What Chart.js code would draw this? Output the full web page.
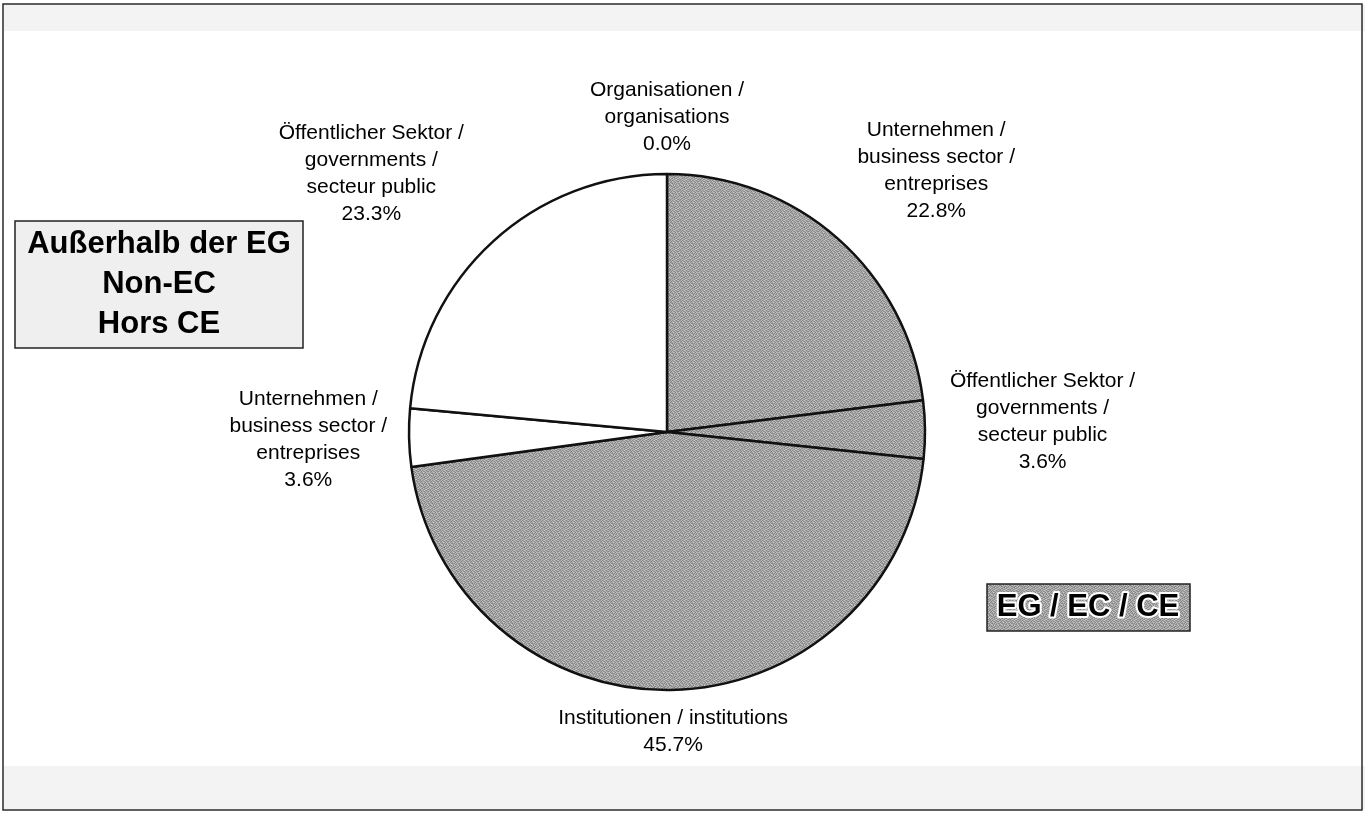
<!DOCTYPE html>
<html>
<head>
<meta charset="utf-8">
<title>EG / Non-EC</title>
<script src="https://cdn.jsdelivr.net/npm/chart.js@4.4.1/dist/chart.umd.min.js"></script>
<style>
  html, body { margin: 0; padding: 0; background: #ffffff; }
  canvas { display: block; }
</style>
</head>
<body>
<canvas id="pieChart" width="1371" height="814"></canvas>
<script>
"use strict";

// slice names, clockwise from the top (one entry per line of the label)
const sliceNames = [
    ["Organisationen /", "organisations"],
    ["Unternehmen /", "business sector /", "entreprises"],
    ["Öffentlicher Sektor /", "governments /", "secteur public"],
    ["Institutionen / institutions"],
    ["Unternehmen /", "business sector /", "entreprises"],
    ["Öffentlicher Sektor /", "governments /", "secteur public"]
];

// shares in percent
const shares = [0.0, 22.8, 3.6, 45.7, 3.6, 23.3];

// true = EG / EC (grey), false = outside the EC (white)
const insideEC = [false, true, true, true, false, false];

// small label corrections (px), the rest comes from the slice angle
const labelNudge = [[0, -2], [37, -17], [11, -7], [0, 1], [-8, 0], [-50, -17]];

const FONT = '"Liberation Sans", Arial, Helvetica, sans-serif';
const LINE_H = 27;
const GAP = 14;

// speckled grey like the printed raster
const greyTile = [
    [150, 188, 140, 172, 205, 158, 136, 180, 196, 150],
    [176, 132, 196, 150, 142, 186, 168, 146, 134, 178],
    [138, 170, 160, 208, 176, 130, 198, 160, 182, 204],
    [196, 152, 134, 168, 140, 190, 150, 178, 146, 140],
    [164, 206, 178, 144, 184, 156, 138, 200, 170, 158],
    [140, 158, 192, 136, 200, 172, 184, 148, 206, 132],
    [182, 136, 150, 186, 154, 134, 162, 192, 138, 176],
    [158, 194, 170, 146, 130, 204, 176, 140, 160, 198],
    [204, 148, 136, 198, 168, 150, 142, 186, 194, 152],
    [134, 176, 188, 158, 144, 196, 208, 154, 136, 168]
];

function makeGreyPattern(ctx) {
    const n = greyTile.length;
    const c = document.createElement("canvas");
    c.width = n;
    c.height = n;
    const g = c.getContext("2d");
    const img = g.createImageData(n, n);
    for (let y = 0; y < n; y++) {
        for (let x = 0; x < n; x++) {
            const v = greyTile[y][x] - 4;
            const k = (y * n + x) * 4;
            img.data[k] = v;
            img.data[k + 1] = v;
            img.data[k + 2] = v;
            img.data[k + 3] = 255;
        }
    }
    g.putImageData(img, 0, 0);
    return ctx.createPattern(c, "repeat");
}

const canvasEl = document.getElementById("pieChart");
const ctx2d = canvasEl.getContext("2d");
const greyFill = makeGreyPattern(ctx2d);

//page background and outer frame
const framePlugin = {
    id: "frame",
    beforeDraw(chart) {
        const ctx = chart.ctx;
        ctx.save();
        ctx.fillStyle = "#ffffff";
        ctx.fillRect(0, 0, chart.width, chart.height);
        ctx.fillStyle = "#f3f3f3";
        ctx.fillRect(4, 5, chart.width - 10, 26);
        ctx.fillRect(4, 766, chart.width - 10, 43);
        ctx.strokeStyle = "#2a2a2a";
        ctx.lineWidth = 1.5;
        ctx.strokeRect(3, 4, 1359, 806);
        ctx.restore();
    }
};

//labels outside the slices
const labelPlugin = {
    id: "sliceLabels",
    afterDatasetsDraw(chart) {
        const ctx = chart.ctx;
        const meta = chart.getDatasetMeta(0);
        ctx.save();
        ctx.font = "21px " + FONT;
        ctx.fillStyle = "#000000";
        ctx.textAlign = "center";
        ctx.textBaseline = "middle";
        meta.data.forEach((arc, i) => {
            const p = arc.getProps(["x", "y", "startAngle", "endAngle", "outerRadius"], true);
            const mid = (p.startAngle + p.endAngle) / 2;
            const cos = Math.cos(mid);
            const sin = Math.sin(mid);
            const lines = sliceNames[i].concat([shares[i].toFixed(1) + "%"]);
            const w = Math.max(...lines.map(l => ctx.measureText(l).width));
            const h = lines.length * LINE_H;
            const ax = p.x + (p.outerRadius + GAP) * cos;
            const ay = p.y + (p.outerRadius + GAP) * sin;
            const cx = ax + cos * w / 2 + labelNudge[i][0];
            const cy = ay + sin * h / 2 + labelNudge[i][1];
            lines.forEach((l, k) => {
                ctx.fillText(l, cx, cy + (k - (lines.length - 1) / 2) * LINE_H);
            });
        });
        ctx.restore();
    }
};

//the two key boxes
const boxPlugin = {
    id: "keyBoxes",
    afterDraw(chart) {
        const ctx = chart.ctx;
        ctx.save();

        // non-EC box
        ctx.fillStyle = "#efefef";
        ctx.fillRect(15, 221, 288, 127);
        ctx.strokeStyle = "#222222";
        ctx.lineWidth = 1.5;
        ctx.strokeRect(15, 221, 288, 127);
        ctx.font = "bold 31px " + FONT;
        ctx.fillStyle = "#000000";
        ctx.textAlign = "center";
        ctx.textBaseline = "middle";
        ["Außerhalb der EG", "Non-EC", "Hors CE"].forEach((t, k) => {
            ctx.fillText(t, 159, 244 + k * 40);
        });

        // EC box
        ctx.fillStyle = greyFill;
        ctx.fillRect(987, 584, 203, 47);
        ctx.strokeStyle = "#222222";
        ctx.lineWidth = 1.5;
        ctx.strokeRect(987, 584, 203, 47);
        ctx.font = "bold 31px " + FONT;
        ctx.lineJoin = "round";
        ctx.lineWidth = 4;
        ctx.strokeStyle = "#ffffff";
        ctx.strokeText("EG / EC / CE", 1088, 607);
        ctx.fillStyle = "#000000";
        ctx.fillText("EG / EC / CE", 1088, 607);

        ctx.restore();
    }
};

new Chart(canvasEl, {
    type: "pie",
    data: {
        labels: sliceNames.map(n => n.join(" ")),
        datasets: [{
            data: shares,
            backgroundColor: insideEC.map(v => v ? greyFill : "#ffffff"),
            borderColor: "#111111",
            borderWidth: 2.5
        }]
    },
    options: {
        responsive: false,
        animation: false,
        radius: 258,
        layout: {
            padding: { left: 267, right: 304, top: 174, bottom: 124 }
        },
        plugins: {
            legend: { display: false },
            tooltip: { enabled: false }
        }
    },
    plugins: [framePlugin, labelPlugin, boxPlugin]
});
</script>
</body>
</html>
